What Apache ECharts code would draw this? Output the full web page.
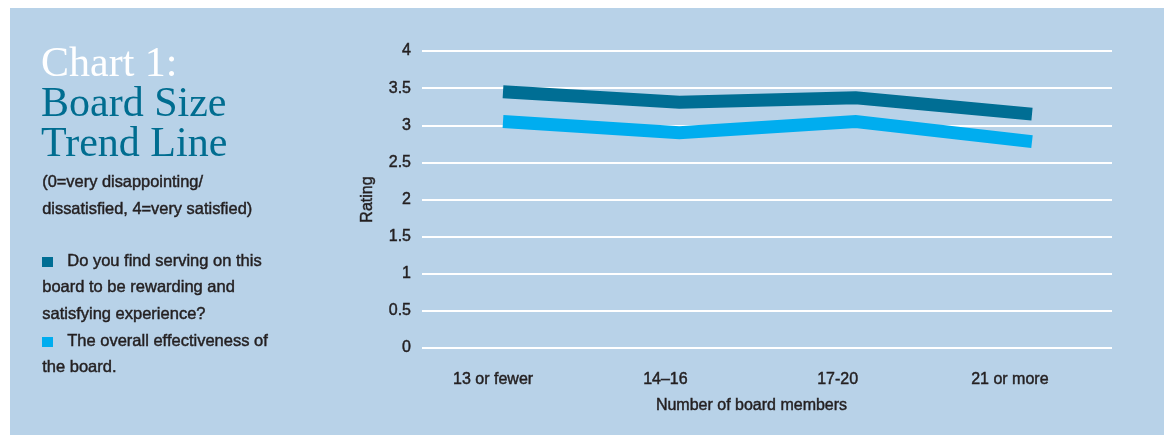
<!DOCTYPE html>
<html>
<head>
<meta charset="utf-8">
<script src="https://cdn.jsdelivr.net/npm/echarts@6/dist/echarts.min.js"></script>
<style>
  html, body { margin: 0; padding: 0; background: #ffffff; }
  #chart { width: 1167px; height: 435px; }
</style>
</head>
<body>
<div id="chart"></div>
<script>
// Board size groups along the x axis
const categories = ['13 or fewer', '14–16', '17-20', '21 or more'];

// Average ratings per board size (0 = very disappointing, 4 = very satisfied)
const rewardingRating = [3.45, 3.31, 3.37, 3.15];
const effectivenessRating = [3.05, 2.90, 3.05, 2.78];

// Rating axis
const yMin = 0;
const yMax = 4;
const yStep = 0.5;

// Text blocks
const titleLines = ['Chart 1:', 'Board Size', 'Trend Line'];
const subtitleLines = ['(0=very disappointing/', 'dissatisfied, 4=very satisfied)'];
const rewardingLegend = ['Do you find serving on this', 'board to be rewarding and', 'satisfying experience?'];
const effectivenessLegend = ['The overall effectiveness of', 'the board.'];
const xAxisTitle = 'Number of board members';
const yAxisTitle = 'Rating';

const darkBlue = '#006e94';
const lightBlue = '#00adef';
const panelBlue = '#b8d2e8';
const ink = '#231f20';
const sans = '"Liberation Sans", Arial, Helvetica, sans-serif';
const serif = '"Liberation Serif", "Times New Roman", serif';

// A hairline outline in the text colour gives the sans text a medium weight
const mediumText = { textBorderColor: ink, textBorderWidth: 0.45 };

const chart = echarts.init(document.getElementById('chart'), null, { renderer: 'canvas' });

// Line points sit on a numeric scale so both series share one positioned axis
const toPoints = (vals) => vals.map((v, i) => [i, v]);

const graphics = [
  { type: 'rect', z: -10, shape: { x: 10, y: 8, width: 1154, height: 427 }, style: { fill: panelBlue } }
];

// Title
const titleColors = ['#ffffff', '#006d90', '#006d90'];
titleLines.forEach((t, i) => {
  graphics.push({
    type: 'text', left: 41, top: 44 + i * 40, z: 5,
    style: { text: t, fill: titleColors[i], font: '42px ' + serif }
  });
});

// Scale note
subtitleLines.forEach((t, i) => {
  graphics.push({
    type: 'text', left: 42, top: 174 + i * 27.3, z: 5,
    style: { text: t, fill: ink, font: '16.4px ' + sans, stroke: ink, lineWidth: 0.45 }
  });
});

// Legend: a colour square before the first line of each entry
function legendBlock(lines, color, firstLineY) {
  graphics.push({
    type: 'rect', z: 5,
    shape: { x: 42, y: firstLineY - 5, width: 11, height: 10 },
    style: { fill: color }
  });
  lines.forEach((t, i) => {
    graphics.push({
      type: 'text', left: i === 0 ? 67 : 42, top: firstLineY - 9.5 + i * 26.65, z: 5,
      style: { text: t, fill: ink, font: '16.5px ' + sans, stroke: ink, lineWidth: 0.45 }
    });
  });
}
legendBlock(rewardingLegend, darkBlue, 262);
legendBlock(effectivenessLegend, lightBlue, 342);

const axisText = Object.assign({ color: ink, fontSize: 16, fontFamily: sans }, mediumText);

const option = {
  animation: false,
  grid: [
    { left: 422, right: 55, top: 51, bottom: 87 },
    { left: 407, right: 71, top: 51, bottom: 87 }
  ],
  xAxis: [
    { type: 'value', gridIndex: 0, min: -0.4594, max: 3.4537, show: false },
    {
      type: 'category', gridIndex: 1, data: categories, boundaryGap: true,
      axisLine: { show: false }, axisTick: { show: false },
      axisLabel: Object.assign({ margin: 24 }, axisText),
      name: xAxisTitle, nameLocation: 'middle', nameGap: 50,
      nameTextStyle: axisText
    }
  ],
  yAxis: [
    {
      type: 'value', gridIndex: 0, min: yMin, max: yMax, interval: yStep,
      axisLine: { show: false }, axisTick: { show: false },
      axisLabel: Object.assign({ margin: 11, formatter: (v) => String(v) }, axisText),
      splitLine: { show: true, lineStyle: { color: '#ffffff', width: 2 } },
      name: yAxisTitle, nameLocation: 'middle', nameGap: 46, nameRotate: 90,
      nameTextStyle: axisText
    },
    { type: 'value', gridIndex: 1, min: yMin, max: yMax, show: false }
  ],
  series: [
    {
      name: rewardingLegend.join(' '), type: 'line', xAxisIndex: 0, yAxisIndex: 0,
      data: toPoints(rewardingRating), symbol: 'none', z: 3,
      lineStyle: { color: darkBlue, width: 13, cap: 'butt', join: 'miter' }
    },
    {
      name: effectivenessLegend.join(' '), type: 'line', xAxisIndex: 0, yAxisIndex: 0,
      data: toPoints(effectivenessRating), symbol: 'none', z: 3,
      lineStyle: { color: lightBlue, width: 13, cap: 'butt', join: 'miter' }
    }
  ],
  graphic: graphics
};

chart.setOption(option);
</script>
</body>
</html>
